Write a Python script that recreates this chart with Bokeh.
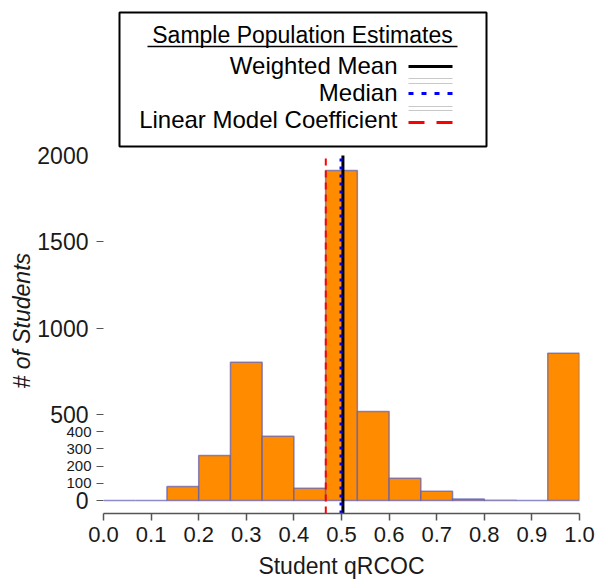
import math
from bokeh.plotting import figure
from bokeh.models import Range1d, LinearAxis, FixedTicker, Title
from bokeh.embed import file_html
from bokeh.resources import INLINE
from bokeh.core.properties import value

# ---------------- data ----------------
bin_edges = [0.0, 0.0667, 0.1333, 0.2, 0.2667, 0.3333, 0.4, 0.4667,
             0.5333, 0.6, 0.6667, 0.7333, 0.8, 0.8667, 0.9333, 1.0]
counts = [0, 0, 81, 261, 802, 373, 71, 1913, 516, 129, 54, 8, 2, 0, 854]

weighted_mean = 0.503
median = 0.499
lm_coef = 0.467

x_ticks = [0.0, 0.1, 0.2, 0.3, 0.4, 0.5, 0.6, 0.7, 0.8, 0.9, 1.0]
x_tick_labels = ["0.0", "0.1", "0.2", "0.3", "0.4", "0.5", "0.6", "0.7", "0.8", "0.9", "1.0"]
y_ticks_big = [0, 500, 1000, 1500, 2000]
y_tick_labels_big = ["0", "500", "1000", "1500", "2000"]
y_ticks_small = [100, 200, 300, 400]
y_tick_labels_small = ["100", "200", "300", "400"]
y_tick_marks = [0, 100, 200, 300, 400, 500, 1000, 1500]

x_title = "Student qRCOC"
y_title = "# of Students"
legend_title = "Sample Population Estimates"
legend_labels = ["Weighted Mean", "Median", "Linear Model Coefficient"]

FONT = "Liberation Sans"
FRAME_BOTTOM = 513          # px of the frame bottom on the canvas
PX_PER_UNIT = 0.1725        # px per student on the y axis
Y_END = 500 / PX_PER_UNIT
Y_START = -(FRAME_BOTTOM - 500) / PX_PER_UNIT
LINE_TOP = 2000

# ---------------- figure ----------------
p = figure(width=596, height=581,
           x_range=Range1d(0, 1), y_range=Range1d(Y_START, Y_END),
           output_backend="svg", toolbar_location=None,
           min_border_left=103, min_border_right=17,
           min_border_top=0, min_border_bottom=0)
p.outline_line_color = None
p.xgrid.visible = False
p.ygrid.visible = False
p.background_fill_color = "white"
p.border_fill_color = "white"

# pixel-like ranges for the legend box inside the frame
p.extra_x_ranges = {"lx": Range1d(0, 476)}
p.extra_y_ranges = {"ly": Range1d(FRAME_BOTTOM, 0)}

# histogram
p.quad(left=bin_edges[:-1], right=bin_edges[1:], bottom=0, top=counts,
       fill_color="#FF8C00", line_color="#5b5bb5", line_alpha=0.7, line_width=1.5)

# estimate lines
p.segment(x0=[lm_coef], y0=[Y_START], x1=[lm_coef], y1=[LINE_TOP],
          line_color="#FF0000", line_width=2, line_dash="7 5")
p.segment(x0=[weighted_mean], y0=[Y_START], x1=[weighted_mean], y1=[LINE_TOP],
          line_color="black", line_width=3)
p.segment(x0=[median], y0=[Y_START], x1=[median], y1=[LINE_TOP],
          line_color="#0000FF", line_width=3, line_dash="3 5")

# ---------------- axes ----------------
xa = p.xaxis[0]
xa.ticker = FixedTicker(ticks=x_ticks)
xa.major_label_overrides = {t: l for t, l in zip(x_ticks, x_tick_labels)}
xa.major_label_text_font = FONT
xa.major_label_text_font_size = "22px"
xa.major_label_text_color = "#1a1a1a"
xa.major_tick_out = 7
xa.major_tick_in = 0
xa.minor_tick_line_color = None
xa.axis_line_color = "#555555"
xa.axis_line_width = 1.5
xa.major_tick_line_color = "#555555"
xa.major_tick_line_width = 1.5
xa.major_label_standoff = 6
xa.axis_label = x_title
xa.axis_label_text_font = FONT
xa.axis_label_text_font_size = "23px"
xa.axis_label_text_font_style = "normal"
xa.axis_label_text_color = "#1a1a1a"
xa.axis_label_standoff = 8

ya = p.yaxis[0]
ya.ticker = FixedTicker(ticks=y_tick_marks)
ov = {t: "" for t in y_tick_marks}
ov.update({t: l for t, l in zip(y_ticks_small, y_tick_labels_small)})
ya.major_label_overrides = ov
ya.major_label_text_font = FONT
ya.major_label_text_font_size = "15px"
ya.major_label_text_color = "#1a1a1a"
ya.major_tick_out = 7
ya.major_tick_in = 0
ya.minor_tick_line_color = None
ya.axis_line_color = None
ya.major_tick_line_color = "#555555"
ya.major_tick_line_width = 1.2
ya.major_label_standoff = 5

yb = LinearAxis(ticker=FixedTicker(ticks=y_ticks_big))
yb.major_label_overrides = {t: l for t, l in zip(y_ticks_big, y_tick_labels_big)}
yb.major_label_text_font = FONT
yb.major_label_text_font_size = "23px"
yb.major_label_text_color = "#1a1a1a"
yb.major_tick_out = 0
yb.major_tick_in = 0
yb.major_tick_line_color = None
yb.minor_tick_line_color = None
yb.axis_line_color = None
yb.major_label_standoff = -25
p.add_layout(yb, "left")

p.add_layout(Title(text=y_title, align="left", offset=125, standoff=0,
                   text_font=FONT, text_font_style="italic",
                   text_font_size="23px", text_color="#1a1a1a"), "left")

# ---------------- legend (custom: text left, sample right) ----------------
L = dict(x_range_name="lx", y_range_name="ly")
p.quad(left=[16], right=[383], top=[12], bottom=[146], fill_color=None,
       line_color="black", line_width=2, **L)
p.text(x=[199], y=[34], text=[legend_title], text_align="center",
       text_baseline="alphabetic", text_font=value(FONT), text_font_size="23px",
       text_color="black", **L)
p.segment(x0=[44], y0=[46], x1=[354], y1=[46], line_color="black", line_width=1.5, **L)
p.text(x=[294, 294, 294], y=[65, 92, 119], text=legend_labels, text_align="right",
       text_baseline="alphabetic", text_font=value(FONT), text_font_size="24px",
       text_color="black", **L)
p.segment(x0=[305, 305, 305, 305], y0=[78, 83, 106, 110],
          x1=[349, 349, 349, 349], y1=[78, 83, 106, 110],
          line_color="#c8c8c8", line_width=1, **L)
p.segment(x0=[305], y0=[66], x1=[349], y1=[66], line_color="black", line_width=3, **L)
p.segment(x0=[305], y0=[93], x1=[349], y1=[93], line_color="#0000FF", line_width=3,
          line_dash="5 8", **L)
p.segment(x0=[305], y0=[122], x1=[349], y1=[122], line_color="#FF0000", line_width=3,
          line_dash="16 12", **L)

open("out.html", "w").write(file_html(p, INLINE))
